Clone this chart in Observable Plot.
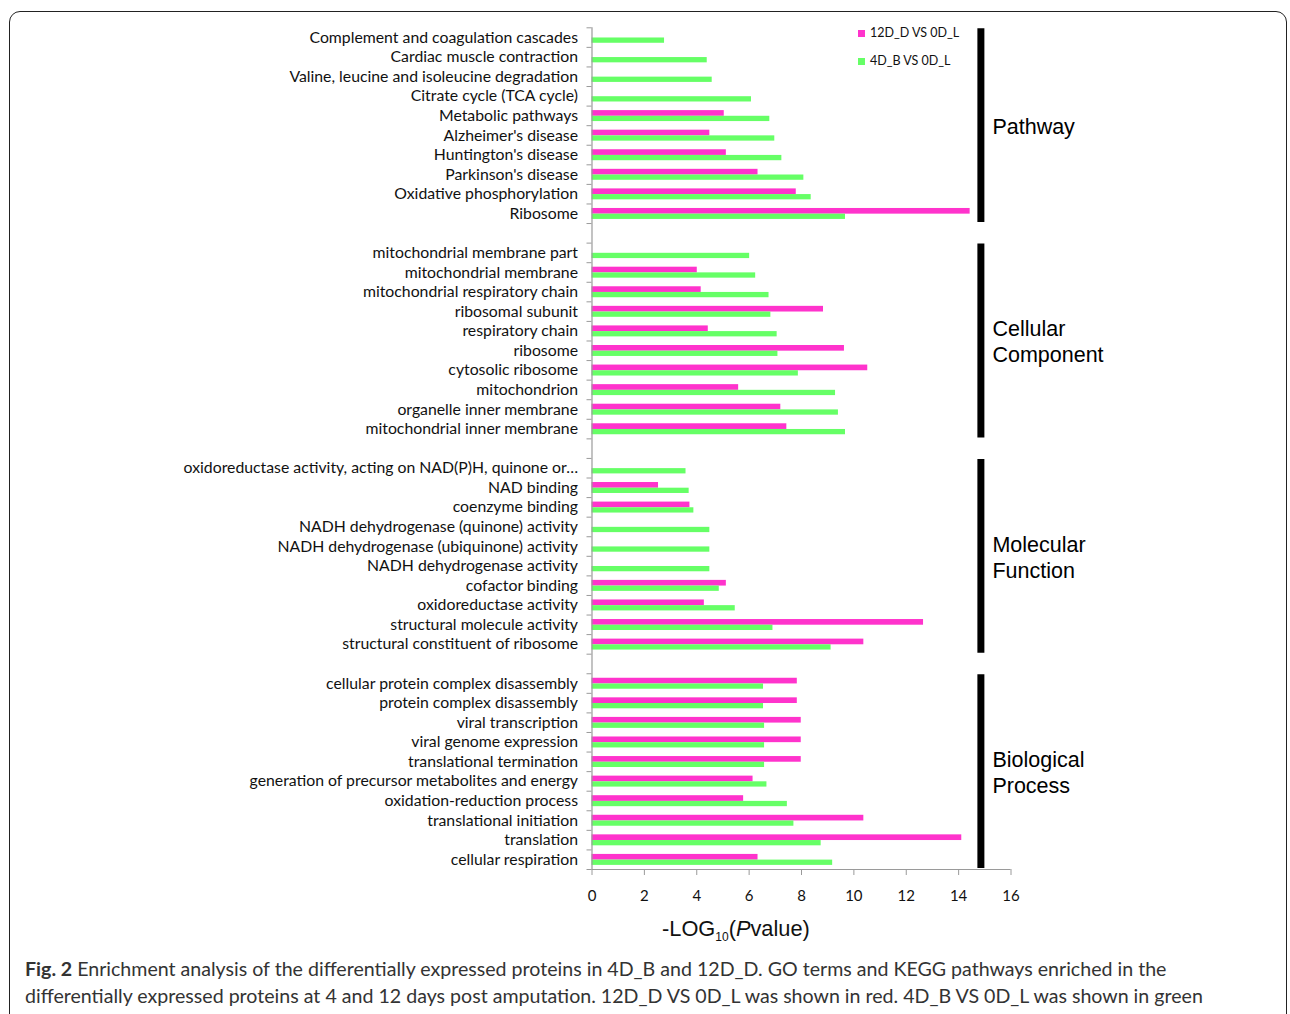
<!DOCTYPE html>
<html>
<head>
<meta charset="utf-8">
<script src="https://cdn.jsdelivr.net/npm/d3@7"></script>
<script src="https://cdn.jsdelivr.net/npm/@observablehq/plot@0.6"></script>
<style>
  html, body { margin: 0; padding: 0; background: #fff; width: 1290px; height: 1014px; overflow: hidden; }
  #frame { position: absolute; left: 9px; top: 11px; width: 1276px; height: 1100px; border: 1.5px solid #222; border-radius: 11px; }
  #chart { position: absolute; left: 0; top: 0; }
  .legend { position: absolute; left: 858px; font-family: Lato, sans-serif; font-size: 12.5px; color: #111; white-space: nowrap; }
  .legend span.sw { display: inline-block; width: 7px; height: 7px; margin-right: 5px; vertical-align: 0px; }
  #xlabel { position: absolute; left: 662px; top: 916px; font-family: "Liberation Sans", Arial, sans-serif; font-size: 21.8px; color: #111; white-space: nowrap; }
  #xlabel sub { font-size: 12px; }
  .cap { position: absolute; left: 25px; font-family: Lato, sans-serif; font-size: 19.6px; color: #333; white-space: nowrap; }
</style>
</head>
<body>
<div id="frame"></div>
<div id="chart"></div>
<div class="legend" style="top:25px"><span class="sw" style="background:#FF33CC"></span>12D_D VS 0D_L</div>
<div class="legend" style="top:53px"><span class="sw" style="background:#66FF66"></span>4D_B VS 0D_L</div>
<div id="xlabel">-LOG<sub>10</sub>(<i>P</i>value)</div>
<div class="cap" style="top:957px"><b>Fig. 2</b> Enrichment analysis of the differentially expressed proteins in 4D_B and 12D_D. GO terms and KEGG pathways enriched in the</div>
<div class="cap" style="top:984px">differentially expressed proteins at 4 and 12 days post amputation. 12D_D VS 0D_L was shown in red. 4D_B VS 0D_L was shown in green</div>
<script>
// ---- Data ----
const groupNames = ["Pathway", "Cellular\nComponent", "Molecular\nFunction", "Biological\nProcess"];
const seriesNames = ["12D_D VS 0D_L", "4D_B VS 0D_L"];

const pathwayTerms = ["Complement and coagulation cascades", "Cardiac muscle contraction", "Valine, leucine and isoleucine degradation", "Citrate cycle (TCA cycle)", "Metabolic pathways", "Alzheimer's disease", "Huntington's disease", "Parkinson's disease", "Oxidative phosphorylation", "Ribosome"];
const pathway12D = [null, null, null, null, 5.05, 4.50, 5.13, 6.34, 7.80, 14.44];
const pathway4D  = [2.77, 4.40, 4.59, 6.09, 6.79, 6.98, 7.25, 8.09, 8.37, 9.68];

const ccTerms = ["mitochondrial membrane part", "mitochondrial membrane", "mitochondrial respiratory chain", "ribosomal subunit", "respiratory chain", "ribosome", "cytosolic ribosome", "mitochondrion", "organelle inner membrane", "mitochondrial inner membrane"];
const cc12D = [null, 4.02, 4.17, 8.84, 4.44, 9.64, 10.53, 5.60, 7.21, 7.44];
const cc4D  = [6.02, 6.25, 6.76, 6.83, 7.07, 7.10, 7.88, 9.30, 9.41, 9.68];

const mfTerms = ["oxidoreductase activity, acting on NAD(P)H, quinone or…", "NAD binding", "coenzyme binding", "NADH dehydrogenase (quinone) activity", "NADH dehydrogenase (ubiquinone) activity", "NADH dehydrogenase activity", "cofactor binding", "oxidoreductase activity", "structural molecule activity", "structural constituent of ribosome"];
const mf12D = [null, 2.54, 3.74, null, null, null, 5.13, 4.29, 12.66, 10.38];
const mf4D  = [3.59, 3.71, 3.89, 4.50, 4.50, 4.50, 4.86, 5.47, 6.91, 9.13];

const bpTerms = ["cellular protein complex disassembly", "protein complex disassembly", "viral transcription", "viral genome expression", "translational termination", "generation of precursor metabolites and energy", "oxidation-reduction process", "translational initiation", "translation", "cellular respiration"];
const bp12D = [7.84, 7.84, 7.99, 7.99, 7.99, 6.15, 5.79, 10.38, 14.12, 6.34];
const bp4D  = [6.55, 6.55, 6.59, 6.59, 6.59, 6.68, 7.46, 7.71, 8.75, 9.19];

const xTicks = [0, 2, 4, 6, 8, 10, 12, 14, 16];

// ---- Build tables ----
const blocks = [
  {terms: pathwayTerms, a: pathway12D, b: pathway4D},
  {terms: ccTerms, a: cc12D, b: cc4D},
  {terms: mfTerms, a: mf12D, b: mf4D},
  {terms: bpTerms, a: bp12D, b: bp4D}
];
const rows = [], bars = [], groups = [];
let r = 0;
blocks.forEach((blk, g) => {
  const start = r;
  blk.terms.forEach((t, i) => {
    rows.push({row: r, term: t});
    if (blk.a[i] != null) bars.push({row: r, term: t, series: seriesNames[0], value: blk.a[i]});
    if (blk.b[i] != null) bars.push({row: r, term: t, series: seriesNames[1], value: blk.b[i]});
    r++;
  });
  groups.push({name: groupNames[g], start, end: r});
  if (g < blocks.length - 1) r++; // blank separator row
});
const nRows = r;
const labelOf = new Map(rows.map(d => [d.row + 0.5, d.term]));

const pink = "#FF33CC", green = "#66FF66", axisGray = "#9a9a9a";

const chart = Plot.plot({
  width: 1290,
  height: 945,
  marginLeft: 591.5,
  marginRight: 279.5,
  marginTop: 27.3,
  marginBottom: 76,
  style: {fontFamily: "Lato, sans-serif", fontSize: "15.8px", color: "#111", background: "transparent", overflow: "visible"},
  x: {domain: [0, 16], axis: null},
  y: {domain: [0, nRows], reverse: true, axis: null},
  color: {domain: seriesNames, range: [pink, green]},
  marks: [
    Plot.rectX(bars.filter(d => d.series === seriesNames[0]), {x: "value", y1: d => d.row + 0.23, y2: d => d.row + 0.52, fill: "series"}),
    Plot.rectX(bars.filter(d => d.series === seriesNames[1]), {x: "value", y1: d => d.row + 0.52, y2: d => d.row + 0.79, fill: "series"}),
    Plot.ruleX([0], {y1: 0, y2: nRows, stroke: axisGray, strokeWidth: 1.2}),
    Plot.ruleY([nRows], {x1: 0, x2: 16, stroke: axisGray, strokeWidth: 1.2}),
    Plot.axisY({ticks: d3.range(0, nRows + 1), tickFormat: () => "", tickSize: 5, stroke: axisGray, label: null}),
    Plot.axisY({ticks: rows.map(d => d.row + 0.5), tickFormat: d => labelOf.get(d), tickSize: 0, tickPadding: 14, fill: "#111", fontSize: 15.8, label: null}),
    Plot.axisX({ticks: xTicks, tickSize: 6, tickPadding: 15, stroke: axisGray, fill: "#111", fontSize: 15, label: null}),
    Plot.ruleX(groups, {x: 14.85, y1: d => d.start + 0.05, y2: d => d.end - 0.05, stroke: "#000", strokeWidth: 7}),
    Plot.text(groups, {x: 15.29, y: d => (d.start + d.end) / 2, text: "name", textAnchor: "start", lineAnchor: "middle", lineHeight: 1.21, fontSize: 21.5, fontFamily: "'Liberation Sans', Arial, sans-serif", fill: "#000"})
  ]
});
document.getElementById("chart").appendChild(chart);
</script>
</body>
</html>
